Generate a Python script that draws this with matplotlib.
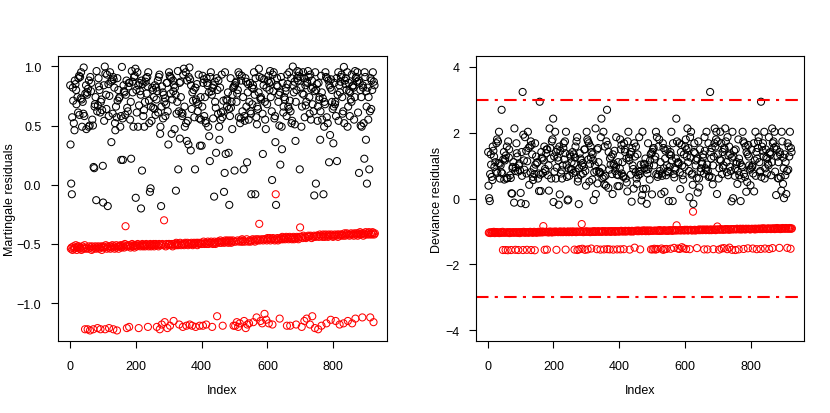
import numpy as np
import matplotlib
matplotlib.use("Agg")
import matplotlib.pyplot as plt

plt.rcParams['font.family'] = ['Liberation Sans', 'DejaVu Sans']

# martingale residuals (x100), one row per 25 subjects, in index order
mres_txt = """
84 34 -54 1 -53 -8 57 -55 82 71 -52 52 -54 46 88 -53 85 -51 80 68 -55 -53 74 -52 61
90 -52 92 59 -54 91 -53 73 95 -55 72 49 -52 70 -54 60 99 -53 58 -51 -122 77 -54 84 47
-53 76 78 -122 81 -54 49 88 -52 50 -123 91 -53 79 86 -55 -52 55 -54 50 -122 15 -53 14 66
68 -52 74 -54 -13 96 -53 62 -121 67 -52 90 83 -54 80 -53 61 -122 70 -52 72 -55 63 -53 16
-15 -52 84 54 -53 99.8 -122 94 -51 76 64 -54 93 -52 -18 -53 85 58 -121 75 -52 95 -54 87 -52
36 -53 88 -51 60 91 -122 89 -52 82 -54 52 46 -53 66 -51 57 -123 90 71 -52 80 -54 73 -52
74 -52 49 -51 58 21 -53 99.5 -52 56 21 -51 84 79 -53 78 -50 59 -35 76 -52 88 -121 65 -51
62 -52 83 86 -120 86 -51 55 -53 70 22 -52 96 -50 87 78 -52 49 -51 91 -53 92 -51 98 -11
-51 80 61 -52 95 -50 49 84 -121 67 -51 86 79 -52 76 -20 -51 88 12 -50 85 -52 58 -51 63
49 -51 70 -52 87 90 -50 77 -51 91 83 -120 95 -52 71 52 -51 -6 -50 -3 66 -52 54 -51 82
-51 80 65 -50 74 -52 64 84 -51 59 -50 82 72 -120 79 -51 88 61 -52 91 -50 93 -122 43 49
-51 -18 66 -118 83 -50 78 56 -51 76 -30 70 -116 73 58 -52 68 -50 86 86 -121 62 -51 34 -50
95 -50 92 -119 91 77 -51 90 43 -50 72 -52 88 79 -115 84 -50 47 82 -51 76 -5 -49 60 -51
70 -50 96 13 -51 62 -118 86 39 -49 87 74 -51 61 -50 58 60 -120 93 -50 98 -51 66 49 -49
-50 95 52 -119 37 88 -49 54 -51 34 91 -50 99 -118 89 -50 29 84 -49 64 -119 78 -51 71 -50
80 -49 57 -50 13 82 -120 72 -49 70 85 -51 62 -49 68 93 -50 56 -119 33 -49 74 55 -50 33
-50 66 92 -119 86 -48 89 58 -50 74 -49 54 52 -118 90 -50 86 84 -48 49 -50 78 41 -49 20
91 -49 95 -48 79 76 -120 82 -50 56 84 -49 -10 -48 87 70 -50 65 27 -49 90 -111 80 -48 60
88 -48 49 38 -49 82 -47 55 61 -49 93 -48 57 -119 62 71 -48 -6 -49 10 95 -47 26 -48 72
-48 66 71 -47 78 -49 27 64 -17 -48 58 -47 90 65 -49 70 -48 47 76 -47 82 -119 83 -48 12
84 -119 86 -48 87 70 -116 77 -47 80 -120 95 57 -48 93 -117 52 -47 56 88 -48 92 -46 62 -48
74 -47 13 -115 58 54 -48 90 -121 87 66 -46 19 -118 78 85 -48 55 -117 70 -47 86 62 -48 60
-8 -47 82 68 -46 84 -116 81 95 -47 76 -48 -8 90 -46 57 -112 51 66 -47 64 -46 78 98 -33
91 -47 73 -115 74 72 -46 90 -117 60 26 -47 84 -46 89 -109 70 55 -46 47 -114 82 -47 68 -45
88 -46 92 -117 86 80 -45 96 -47 74 87 -46 62 4 -118 93 -45 79 95 -46 56 -47 58 36 -8
-17 -46 84 90 -45 83 -47 70 76 -46 50 -113 78 17 -45 91 -46 49 30 -44 86 -46 61 66 -45
74 -45 72 -46 79 82 -44 58 -119 93 85 -45 66 -46 64 95 -44 71 -119 62 -45 90 52 -46 54
-45 99.8 84 -44 78 -46 87 51 -45 37 70 -118 80 -44 90 96 -45 88 -46 92 95 -44 13 -36 91
82 -44 49 -120 66 77 -45 95 -43 76 90 -115 57 -44 84 67 -45 70 -113 87 86 -44 96 -43 91
-44 74 60 -118 93 -43 55 81 -45 88 -111 68 82 -44 62 -43 -9 79 -121 95 -44 1 80 -43 85
-43 54 66 -122 86 -44 72 74 -42 38 62 -43 92 -119 78 55 -44 73 -42 -8 -43 49 70 -44 68
95 -42 91 -117 57 90 -43 52 -44 88 -42 19 84 -43 42 82 -114 89 -42 80 70 -43 64 -44 35
66 -43 86 -42 68 70 -115 58 -43 90 20 -42 76 -44 95 54 -42 84 -118 78 -43 87 91 -42 93
-42 74 60 -43 62 -117 99.5 52 -41 88 -43 85 90 -42 80 -41 95 49 -115 66 -42 86 79 -43 58
78 -42 72 -41 70 93 -117 83 -42 84 82 -43 55 -41 74 96 -113 90 -42 91 -41 87 95 -43 61
-41 88 10 -42 86 -40 80 50 -42 74 49 -41 -112 84 82 -43 52 -41 22 95 -42 91 -40 38 79
66 1 -42 82 -41 55 74 -40 13 -42 62 -112 90 -41 64 88 -42 80 -40 95 -41 -116 87 -42 84 -41
"""

# event status (1 = event, 0 = censored), same rows as above
status_txt = """
1101011011010110101100101
1011010110110101101001011
0110101101010110010101011
1010110101011010101010101
1011010101101010110101010
1010110101011010101101010
1010110101101101010101010
1011010101101011010101011
0110101101011011011010101
1010110101101011010110101
0110101101011010110101011
0110101101010110101101010
1010110110101101011011010
1011010110110101101010110
0110110101101010110101010
1010110101101011010101101
0110101101011010110101101
1010110101101011011010101
1011010110101011010110101
0110101110101101011010101
1010110101011010101101010
1010110101101011010101101
1011010110101101011010110
1010110101101010110101010
1010110101101101011010110
1011010110101101011010110
1010110101101011010101101
0110101101101011010110101
1010110101101011010110101
0110101101011010110101101
0110101101101011010101101
1010110101011011010110101
1010110101101011010101101
0110101101011010110101101
1010110101101011010101101
0110101101100110101101011
11010110101010110101001010
"""

mres_rows = [r.split() for r in mres_txt.strip().splitlines()]
status_rows = status_txt.split()
for i, (a, b) in enumerate(zip(mres_rows, status_rows)):
    assert len(a) == len(b), "row %d: %d vs %d" % (i + 1, len(a), len(b))

mres = np.array([float(v) for r in mres_rows for v in r]) / 100
status = np.array([int(c) for r in status_rows for c in r])
assert np.all(mres[status == 0] < 0) and np.all(mres[status == 1] > -0.3)
idx = np.arange(1, len(mres) + 1)
ev = status == 1

# deviance residuals from the martingale residuals
dev = np.empty_like(mres)
dev[ev] = np.sign(mres[ev]) * np.sqrt(-2 * (mres[ev] + np.log(1 - mres[ev])))
dev[~ev] = -np.sqrt(-2 * mres[~ev])

colors = np.where(ev, 'black', 'red')

fig = plt.figure(figsize=(8.3, 4.14), dpi=100)
ax1 = fig.add_axes([0.0699, 0.1739, 0.3964, 0.6884])
ax2 = fig.add_axes([0.5735, 0.1739, 0.3952, 0.6884])


def r_look(ax):
    for sp in ax.spines.values():
        sp.set_linewidth(0.8)
    ax.tick_params(direction='out', length=5, width=0.8, labelsize=9)
    ax.tick_params(axis='x', pad=9)
    ax.tick_params(axis='y', pad=7)
    ax.set_xticks([0, 200, 400, 600, 800])
    ax.set_xlabel('Index', fontsize=9)
    ax.xaxis.set_label_coords(0.5, -0.15)


ax1.scatter(idx, mres, s=26, facecolors='none', edgecolors=colors, linewidths=0.75)
ax1.margins(0.04)
ax1.set_yticks([-1.0, -0.5, 0.0, 0.5, 1.0])
ax1.set_ylabel('Martingale residuals', fontsize=9)
ax1.yaxis.set_label_coords(-0.128, 0.5)
r_look(ax1)

ax2.scatter(idx, dev, s=26, facecolors='none', edgecolors=colors, linewidths=0.75)
ax2.axhline(3, color='red', lw=1.5, dashes=(6, 3, 1.5, 3))
ax2.axhline(-3, color='red', lw=1.5, dashes=(6, 3, 1.5, 3))
ax2.margins(x=0.04)
ax2.set_ylim(-4.32, 4.32)
ax2.set_yticks([-4, -2, 0, 2, 4])
ax2.set_ylabel('Deviance residuals', fontsize=9)
ax2.yaxis.set_label_coords(-0.10, 0.5)
r_look(ax2)

fig.savefig('out.png', dpi=100)
